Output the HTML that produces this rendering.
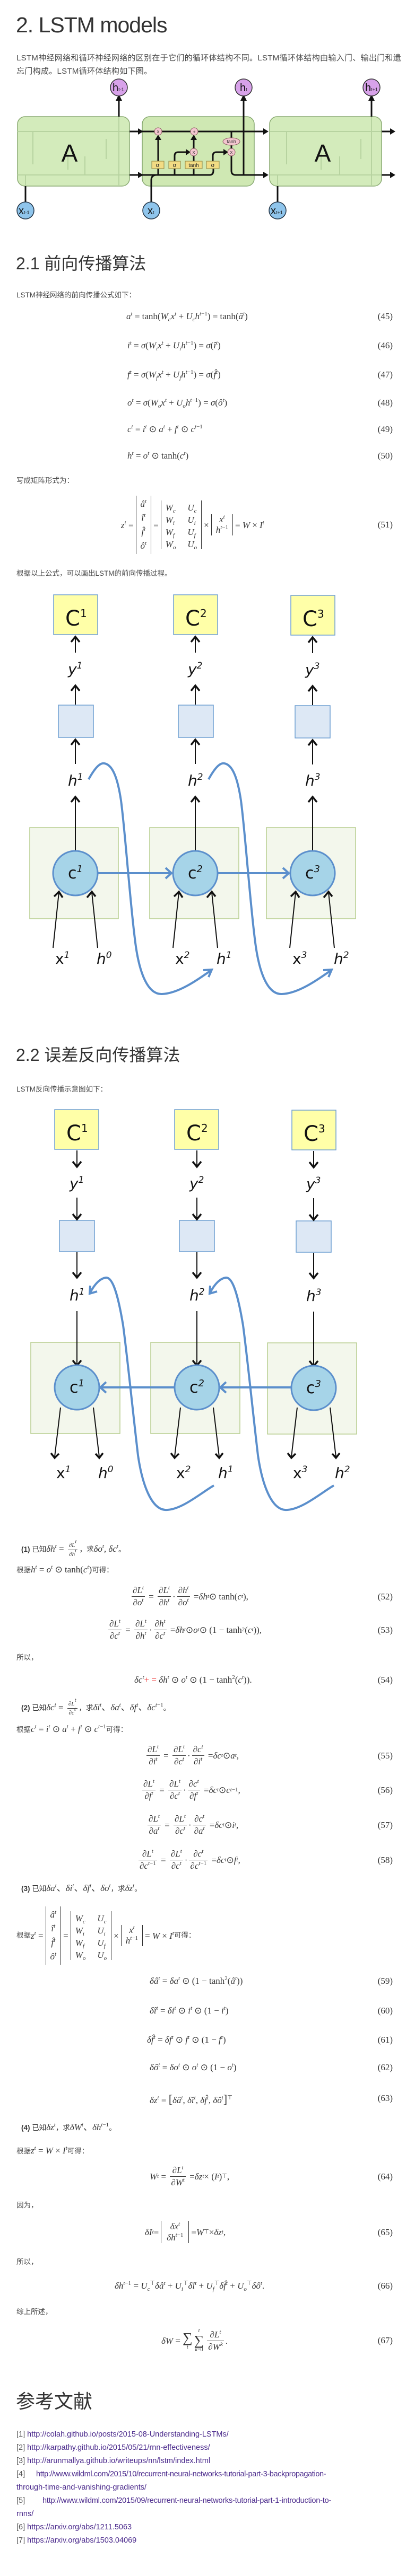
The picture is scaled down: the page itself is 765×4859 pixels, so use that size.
<!DOCTYPE html>
<html><head><meta charset="utf-8">
<style>
*{margin:0;padding:0;box-sizing:border-box}
body{width:765px;height:4859px;background:#fff;overflow:hidden}
#p{position:relative;width:765px;height:4859px;font-family:"Liberation Sans","Noto Sans CJK SC",sans-serif;color:#444}
svg{position:absolute;left:0;top:0}
.t{position:absolute;white-space:nowrap;line-height:1}
.h{color:#333}
.pt{font-size:13.5px;color:#4a4a4a}
.eq{position:absolute;white-space:nowrap;font-family:"Liberation Serif",serif;font-size:17px;color:#333;line-height:1}
.eq i{font-style:italic}
.eq sup{font-size:11px;vertical-align:7px;line-height:0}
.eq sub{font-size:11px;vertical-align:-4px;line-height:0}
.num{position:absolute;right:25px;font-family:"Liberation Serif",serif;font-size:17px;color:#333;line-height:1}
.fr{display:inline-flex;flex-direction:column;vertical-align:middle;text-align:center;margin:0 3px}
.fr>span{display:block;padding:1px 2px;line-height:1.15}
.fr>span:first-child{border-bottom:1px solid #333}
.fs{font-size:11px}
.mat{display:inline-flex;flex-direction:column;vertical-align:middle;border-left:1.5px solid #333;border-right:1.5px solid #333;padding:2px 8px;margin:0 4px;text-align:center}
.mat>span{line-height:25px}
.mat2{display:inline-grid;grid-template-columns:auto auto;column-gap:22px;vertical-align:middle;border-left:1.5px solid #333;border-right:1.5px solid #333;padding:2px 8px;margin:0 4px}
.mat2>span{line-height:23px}
.b{font-weight:bold}
.ref{position:absolute;white-space:nowrap;font-size:14.5px;line-height:1;color:#555}
.ref a,.ref span.l{color:#4b2a8c;text-decoration:none}
.red{color:#e33}
</style></head><body><div id="p">
<svg width="765" height="4859" viewBox="0 0 765 4859">
<defs>
<marker id="tri" markerWidth="8" markerHeight="8" refX="5" refY="4" orient="auto" markerUnits="userSpaceOnUse"><path d="M0,0 L8,4 L0,8 z" fill="#111"/></marker>
</defs>
<!-- ===== LSTM top diagram ===== -->
<g>
<rect x="33" y="220" width="211" height="131" rx="14" fill="#d3ebbb" stroke="#8aaa72" stroke-width="1.5"/>
<rect x="268" y="220" width="211" height="131" rx="14" fill="#cfe8b3" stroke="#86a870" stroke-width="1.5"/>
<rect x="508" y="220" width="211" height="131" rx="14" fill="#d3ebbb" stroke="#8aaa72" stroke-width="1.5"/>
<g stroke="#b7d3a0" stroke-width="2" fill="none">
<path d="M33 248H244M33 330H244M224 220V351M48 351V330H160V295M62 310V248M128 320V290M200 300V262"/>
<path d="M508 248H719M508 330H719M700 220V351M523 351V330H640V295M540 310V248M605 320V290M680 300V262"/>
</g>
<g stroke="#111" stroke-width="3" fill="none">
<path d="M224 220V186"/><path d="M700 220V186"/><path d="M459 330V186"/>
<path d="M244 248H262"/><path d="M244 330H262"/>
<path d="M268 248H498"/><path d="M719 248H737"/><path d="M719 330H737"/>
<path d="M268 330H395Q402 330 402 322V318"/>
<path d="M285 381V340Q285 330 295 330"/>
<path d="M298 304V262"/>
<path d="M329 304V294Q329 287 336 287H352"/>
<path d="M365 304V294"/><path d="M365 280V262"/>
<path d="M401 304V294Q401 287 408 287H422"/>
<path d="M436 248V262"/><path d="M436 272V280"/>
<path d="M436 294V322Q436 330 444 330H498"/>
<path d="M298 318V330M329 318V330M365 318V330"/>
<path d="M48 381V351M523 381V351"/>
</g>
<g fill="#111">
<path d="M218 190L224 178L230 190Z"/><path d="M694 190L700 178L706 190Z"/><path d="M453 190L459 178L465 190Z"/>
<path d="M260 242L270 248L260 254Z"/><path d="M260 324L270 330L260 336Z"/>
<path d="M496 242L506 248L496 254Z"/><path d="M496 324L506 330L496 336Z"/>
<path d="M735 242L745 248L735 254Z"/><path d="M735 324L745 330L735 336Z"/>
<path d="M292 264L298 254L304 264Z"/><path d="M359 264L365 254L371 264Z"/>
<path d="M350 281L359 287L350 293Z"/><path d="M421 281L430 287L421 293Z"/>
</g>
<g fill="#f3c6cf" stroke="#8a5a60" stroke-width="1">
<circle cx="298" cy="248" r="7"/><circle cx="366" cy="248" r="7"/>
<circle cx="365" cy="287" r="7"/><circle cx="436" cy="287" r="7"/>
<ellipse cx="436" cy="267" rx="16" ry="7"/>
</g>
<g font-family="Liberation Sans" font-size="9" fill="#333" text-anchor="middle">
<text x="298" y="251">x</text><text x="366" y="252">+</text><text x="365" y="290">x</text><text x="436" y="290">x</text><text x="436" y="270">tanh</text>
</g>
<g fill="#f2dc84" stroke="#8f8340" stroke-width="1">
<rect x="286" y="304" width="23" height="14"/><rect x="318" y="304" width="22" height="14"/><rect x="349" y="304" width="32" height="14"/><rect x="389" y="304" width="24" height="14"/>
</g>
<g font-family="Liberation Sans" font-size="11" fill="#222" text-anchor="middle">
<text x="297" y="315">σ</text><text x="329" y="315">σ</text><text x="365" y="315" font-size="10">tanh</text><text x="401" y="315">σ</text>
</g>
<g font-family="Liberation Sans" font-size="46" fill="#111" text-anchor="middle"><text x="131" y="305">A</text><text x="608" y="305">A</text></g>
<g fill="#d8a2ea" stroke="#333" stroke-width="1.5">
<ellipse cx="224" cy="165" rx="16" ry="16"/><ellipse cx="459" cy="165" rx="16" ry="16"/><ellipse cx="700" cy="165" rx="16" ry="16"/>
</g>
<g fill="#8fc5ec" stroke="#234" stroke-width="1.5">
<ellipse cx="48" cy="397" rx="16" ry="16"/><ellipse cx="285" cy="397" rx="16" ry="16"/><ellipse cx="523" cy="397" rx="16" ry="16"/>
</g>
<g font-family="Liberation Sans" font-size="20" fill="#111">
<text x="212" y="172">h<tspan font-size="9">t-1</tspan></text>
<text x="452" y="172">h<tspan font-size="9">t</tspan></text>
<text x="688" y="172">h<tspan font-size="9">t+1</tspan></text>
<text x="35" y="404">x<tspan font-size="9">t-1</tspan></text>
<text x="278" y="404">x<tspan font-size="9">t</tspan></text>
<text x="510" y="404">x<tspan font-size="9">t+1</tspan></text>
</g>
</g>

<!-- ===== Forward diagram ===== -->
<g id="fwd">
<g fill="#f3f7ec" stroke="#b7cd8f" stroke-width="1.5">
<rect x="56" y="1561" width="167" height="172"/><rect x="282" y="1561" width="168" height="172"/><rect x="502" y="1561" width="168" height="172"/>
</g>
<g fill="#ffffa8" stroke="#6f9fd2" stroke-width="1.5">
<rect x="101" y="1122" width="83" height="75"/><rect x="327" y="1122" width="83" height="75"/><rect x="548" y="1123" width="83" height="75"/>
</g>
<g fill="#dde8f5" stroke="#6f9fd2" stroke-width="1.5">
<rect x="110" y="1330" width="66" height="61"/><rect x="336" y="1330" width="66" height="61"/><rect x="556" y="1331" width="66" height="61"/>
</g>
<g stroke="#111" stroke-width="2" fill="none">
<path d="M142 1231V1201M368 1231V1201M589 1232V1202"/>
<path d="M142 1329V1293M368 1329V1293M589 1330V1294"/>
<path d="M142 1441V1395M368 1441V1395M589 1442V1396"/>
<path d="M142 1605V1503M368 1605V1503M589 1605V1503"/>
<path d="M100 1788L111 1683M184 1788L173 1683M326 1788L337 1683M410 1788L399 1683M546 1788L557 1683M630 1788L619 1683"/>
</g>
<g stroke="#111" stroke-width="3.5" fill="none" stroke-linejoin="miter">
<path d="M134 1211L142 1201L150 1211M360 1211L368 1201L376 1211M581 1212L589 1202L597 1212"/>
<path d="M134 1303L142 1293L150 1303M360 1303L368 1293L376 1303M581 1304L589 1294L597 1304"/>
<path d="M134 1405L142 1395L150 1405M360 1405L368 1395L376 1405M581 1406L589 1396L597 1406"/>
<path d="M134 1513L142 1503L150 1513M360 1513L368 1503L376 1513M581 1513L589 1503L597 1513"/>
<path d="M102 1691L111 1682L118 1693M164 1693L173 1682L180 1691M328 1691L337 1682L344 1693M390 1693L399 1682L406 1691M548 1691L557 1682L564 1693M610 1693L619 1682L626 1691"/>
</g>
<g stroke="#5b8fcc" stroke-width="4" fill="none">
<path d="M185 1647H322M411 1647H543"/>
<path d="M312 1637L323 1647L312 1657M533 1637L544 1647L533 1657"/>
<path d="M167 1470C178 1450 188 1438 197 1440C213 1443 222 1470 228 1510C236 1570 244 1690 254 1770C262 1840 280 1876 305 1875C335 1874 370 1850 398 1830"/>
<path d="M383 1830L399 1829L393 1843"/>
<path d="M393 1470C404 1450 414 1438 423 1440C439 1443 448 1470 454 1510C462 1570 470 1690 480 1770C488 1840 506 1876 531 1875C561 1874 596 1850 624 1830"/>
<path d="M609 1830L625 1829L619 1843"/>
</g>
<g fill="#a6d4e8" stroke="#5b8fcc" stroke-width="3">
<circle cx="142" cy="1647" r="42"/><circle cx="368" cy="1647" r="42"/><circle cx="589" cy="1647" r="42"/>
</g>
<g font-family="DejaVu Sans" fill="#111">
<g font-size="40"><text x="123" y="1180">C<tspan font-size="20" dy="-16">1</tspan></text><text x="349" y="1180">C<tspan font-size="20" dy="-16">2</tspan></text><text x="570" y="1181">C<tspan font-size="20" dy="-16">3</tspan></text></g>
<g font-size="28" font-style="italic"><text x="128" y="1272">y<tspan font-size="17" dy="-11">1</tspan></text><text x="354" y="1272">y<tspan font-size="17" dy="-11">2</tspan></text><text x="575" y="1273">y<tspan font-size="17" dy="-11">3</tspan></text></g>
<g font-size="28" font-style="italic"><text x="128" y="1482">h<tspan font-size="17" dy="-11">1</tspan></text><text x="354" y="1482">h<tspan font-size="17" dy="-11">2</tspan></text><text x="575" y="1482">h<tspan font-size="17" dy="-11">3</tspan></text></g>
<g font-size="30"><text x="128" y="1657">c<tspan font-size="18" font-style="italic" dy="-12">1</tspan></text><text x="354" y="1657">c<tspan font-size="18" font-style="italic" dy="-12">2</tspan></text><text x="575" y="1657">c<tspan font-size="18" font-style="italic" dy="-12">3</tspan></text></g>
<g font-size="28"><text x="104" y="1818">x<tspan font-size="17" font-style="italic" dy="-11">1</tspan></text><text x="330" y="1818">x<tspan font-size="17" font-style="italic" dy="-11">2</tspan></text><text x="551" y="1818">x<tspan font-size="17" font-style="italic" dy="-11">3</tspan></text></g>
<g font-size="28" font-style="italic"><text x="182" y="1818">h<tspan font-size="17" dy="-11">0</tspan></text><text x="408" y="1818">h<tspan font-size="17" dy="-11">1</tspan></text><text x="629" y="1818">h<tspan font-size="17" dy="-11">2</tspan></text></g>
</g>
</g>

<!-- ===== Backward diagram ===== -->
<g id="bwd">
<g fill="#f3f7ec" stroke="#b7cd8f" stroke-width="1.5">
<rect x="58" y="2532" width="168" height="172"/><rect x="284" y="2532" width="168" height="172"/><rect x="504" y="2533" width="168" height="172"/>
</g>
<g fill="#ffffa8" stroke="#6f9fd2" stroke-width="1.5">
<rect x="103" y="2093" width="83" height="75"/><rect x="329" y="2093" width="83" height="75"/><rect x="550" y="2094" width="83" height="75"/>
</g>
<g fill="#dde8f5" stroke="#6f9fd2" stroke-width="1.5">
<rect x="112" y="2302" width="66" height="59"/><rect x="338" y="2302" width="66" height="59"/><rect x="558" y="2303" width="66" height="59"/>
</g>
<g stroke="#111" stroke-width="2" fill="none">
<path d="M145 2170V2200M371 2170V2200M591 2171V2201"/>
<path d="M145 2259V2299M371 2259V2299M591 2260V2300"/>
<path d="M145 2362V2409M371 2362V2409M591 2363V2410"/>
<path d="M145 2473V2574M371 2473V2574M591 2474V2575"/>
<path d="M114 2655L103 2748M176 2655L187 2748M340 2655L329 2748M402 2655L413 2748M560 2655L549 2748M622 2655L633 2748"/>
</g>
<g stroke="#111" stroke-width="3.5" fill="none">
<path d="M137 2191L145 2201L153 2191M363 2191L371 2201L379 2191M583 2192L591 2202L599 2192"/>
<path d="M137 2290L145 2300L153 2290M363 2290L371 2300L379 2290M583 2291L591 2301L599 2291"/>
<path d="M137 2400L145 2410L153 2400M363 2400L371 2410L379 2400M583 2401L591 2411L599 2401"/>
<path d="M137 2566L145 2576L153 2566M363 2566L371 2576L379 2566M583 2567L591 2577L599 2567"/>
<path d="M96 2741L103 2750L111 2742M180 2742L187 2750L194 2741M322 2741L329 2750L337 2742M406 2742L413 2750L420 2741M542 2741L549 2750L557 2742M626 2742L633 2750L640 2741"/>
</g>
<g stroke="#5b8fcc" stroke-width="4" fill="none">
<path d="M190 2617H329M416 2617H549"/>
<path d="M200 2607L189 2617L200 2627M426 2607L415 2617L426 2627"/>
<path d="M403 2802C380 2815 340 2850 311 2848C285 2846 268 2800 260 2745C250 2660 240 2560 232 2500C222 2440 212 2408 199 2410C187 2412 177 2425 170 2438"/>
<path d="M170 2425L169 2440L183 2436"/>
<path d="M629 2802C606 2815 566 2850 537 2848C511 2846 494 2800 486 2745C476 2660 466 2560 458 2500C448 2440 438 2408 425 2410C413 2412 403 2425 396 2438"/>
<path d="M396 2425L395 2440L409 2436"/>
</g>
<g fill="#a6d4e8" stroke="#5b8fcc" stroke-width="3">
<circle cx="145" cy="2617" r="42"/><circle cx="371" cy="2617" r="42"/><circle cx="591" cy="2618" r="42"/>
</g>
<g font-family="DejaVu Sans" fill="#111">
<g font-size="40"><text x="125" y="2151">C<tspan font-size="20" dy="-16">1</tspan></text><text x="351" y="2151">C<tspan font-size="20" dy="-16">2</tspan></text><text x="572" y="2152">C<tspan font-size="20" dy="-16">3</tspan></text></g>
<g font-size="28" font-style="italic"><text x="131" y="2242">y<tspan font-size="17" dy="-11">1</tspan></text><text x="357" y="2242">y<tspan font-size="17" dy="-11">2</tspan></text><text x="577" y="2243">y<tspan font-size="17" dy="-11">3</tspan></text></g>
<g font-size="28" font-style="italic"><text x="131" y="2453">h<tspan font-size="17" dy="-11">1</tspan></text><text x="357" y="2453">h<tspan font-size="17" dy="-11">2</tspan></text><text x="577" y="2454">h<tspan font-size="17" dy="-11">3</tspan></text></g>
<g font-size="30"><text x="131" y="2627">c<tspan font-size="18" font-style="italic" dy="-12">1</tspan></text><text x="357" y="2627">c<tspan font-size="18" font-style="italic" dy="-12">2</tspan></text><text x="577" y="2628">c<tspan font-size="18" font-style="italic" dy="-12">3</tspan></text></g>
<g font-size="28"><text x="106" y="2788">x<tspan font-size="17" font-style="italic" dy="-11">1</tspan></text><text x="332" y="2788">x<tspan font-size="17" font-style="italic" dy="-11">2</tspan></text><text x="552" y="2788">x<tspan font-size="17" font-style="italic" dy="-11">3</tspan></text></g>
<g font-size="28" font-style="italic"><text x="185" y="2788">h<tspan font-size="17" dy="-11">0</tspan></text><text x="411" y="2788">h<tspan font-size="17" dy="-11">1</tspan></text><text x="631" y="2788">h<tspan font-size="17" dy="-11">2</tspan></text></g>
</g>
</g>
</svg>

<!-- ===== Text ===== -->
<div class="t h" style="left:30px;top:27px;font-size:41px;letter-spacing:-1px">2. LSTM models</div>
<div class="t" style="left:31px;top:102px;font-size:15px;color:#4a4a4a;letter-spacing:0.3px">LSTM神经网络和循环神经网络的区别在于它们的循环体结构不同。LSTM循环体结构由输入门、输出门和遗</div>
<div class="t" style="left:31px;top:127px;font-size:15px;color:#4a4a4a;letter-spacing:0.3px">忘门构成。LSTM循环体结构如下图。</div>

<div class="t h" style="left:30px;top:481px;font-size:32px">2.1 前向传播算法</div>
<div class="t pt" style="left:31px;top:550px">LSTM神经网络的前向传播公式如下：</div>

<div class="eq" style="left:238px;top:588px"><i>a</i><sup><i>t</i></sup> = tanh(<i>W</i><sub><i>c</i></sub><i>x</i><sup><i>t</i></sup> + <i>U</i><sub><i>c</i></sub><i>h</i><sup><i>t</i>−1</sup>) = tanh(<i>â</i><sup><i>t</i></sup>)</div><div class="num" style="top:588px">(45)</div>
<div class="eq" style="left:240px;top:643px"><i>i</i><sup><i>t</i></sup> = <i>σ</i>(<i>W</i><sub><i>i</i></sub><i>x</i><sup><i>t</i></sup> + <i>U</i><sub><i>i</i></sub><i>h</i><sup><i>t</i>−1</sup>) = <i>σ</i>(<i>î</i><sup><i>t</i></sup>)</div><div class="num" style="top:643px">(46)</div>
<div class="eq" style="left:240px;top:698px"><i>f</i><sup><i>t</i></sup> = <i>σ</i>(<i>W</i><sub><i>f</i></sub><i>x</i><sup><i>t</i></sup> + <i>U</i><sub><i>f</i></sub><i>h</i><sup><i>t</i>−1</sup>) = <i>σ</i>(<i>f̂</i><sup><i>t</i></sup>)</div><div class="num" style="top:698px">(47)</div>
<div class="eq" style="left:240px;top:751px"><i>o</i><sup><i>t</i></sup> = <i>σ</i>(<i>W</i><sub><i>o</i></sub><i>x</i><sup><i>t</i></sup> + <i>U</i><sub><i>o</i></sub><i>h</i><sup><i>t</i>−1</sup>) = <i>σ</i>(<i>ô</i><sup><i>t</i></sup>)</div><div class="num" style="top:751px">(48)</div>
<div class="eq" style="left:240px;top:801px"><i>c</i><sup><i>t</i></sup> = <i>i</i><sup><i>t</i></sup> ⊙ <i>a</i><sup><i>t</i></sup> + <i>f</i><sup><i>t</i></sup> ⊙ <i>c</i><sup><i>t</i>−1</sup></div><div class="num" style="top:801px">(49)</div>
<div class="eq" style="left:240px;top:851px"><i>h</i><sup><i>t</i></sup> = <i>o</i><sup><i>t</i></sup> ⊙ tanh(<i>c</i><sup><i>t</i></sup>)</div><div class="num" style="top:851px">(50)</div>

<div class="t pt" style="left:31px;top:900px">写成矩阵形式为：</div>
<div class="eq" style="left:228px;top:935px;height:110px;display:flex;align-items:center"><span><i>z</i><sup><i>t</i></sup> =</span><span class="mat" style="height:110px;justify-content:space-around"><span><i>â</i><sup><i>t</i></sup></span><span><i>î</i><sup><i>t</i></sup></span><span><i>f̂</i><sup><i>t</i></sup></span><span><i>ô</i><sup><i>t</i></sup></span></span><span>=</span><span class="mat2" style="height:92px"><span><i>W</i><sub><i>c</i></sub></span><span><i>U</i><sub><i>c</i></sub></span><span><i>W</i><sub><i>i</i></sub></span><span><i>U</i><sub><i>i</i></sub></span><span><i>W</i><sub><i>f</i></sub></span><span><i>U</i><sub><i>f</i></sub></span><span><i>W</i><sub><i>o</i></sub></span><span><i>U</i><sub><i>o</i></sub></span></span><span>×</span><span class="mat" style="padding:0 8px"><span style="line-height:20px"><i>x</i><sup><i>t</i></sup></span><span style="line-height:20px"><i>h</i><sup><i>t</i>−1</sup></span></span><span>= <i>W</i> × <i>I</i><sup><i>t</i></sup></span></div><div class="num" style="top:981px">(51)</div>

<div class="t pt" style="left:31px;top:1075px">根据以上公式，可以画出LSTM的前向传播过程。</div>

<div class="t h" style="left:30px;top:1974px;font-size:32px">2.2 误差反向传播算法</div>
<div class="t pt" style="left:31px;top:2048px">LSTM反向传播示意图如下：</div>

<div class="t pt" style="left:40px;top:2907px;color:#333"><span class="b">(1)</span> 已知<span class="eq" style="position:static"><i>δh</i><sup><i>t</i></sup> = <span class="fr fs"><span><i>∂L</i><sup><i>t</i></sup></span><span><i>∂h</i><sup><i>t</i></sup></span></span></span>，求<span class="eq" style="position:static"><i>δo</i><sup><i>t</i></sup>, <i>δc</i><sup><i>t</i></sup></span>。</div>
<div class="t pt" style="left:31px;top:2952px">根据<span class="eq" style="position:static"><i>h</i><sup><i>t</i></sup> = <i>o</i><sup><i>t</i></sup> ⊙ tanh(<i>c</i><sup><i>t</i></sup>)</span>可得：</div>

<div class="eq" style="left:245px;top:2990px;height:42px;display:flex;align-items:center"><span class="fr"><span><i>∂L</i><sup><i>t</i></sup></span><span><i>∂o</i><sup><i>t</i></sup></span></span>&nbsp;=&nbsp;<span class="fr"><span><i>∂L</i><sup><i>t</i></sup></span><span><i>∂h</i><sup><i>t</i></sup></span></span>·<span class="fr"><span><i>∂h</i><sup><i>t</i></sup></span><span><i>∂o</i><sup><i>t</i></sup></span></span>&nbsp;= <i>δh</i><sup><i>t</i></sup> ⊙ tanh(<i>c</i><sup><i>t</i></sup>),</div><div class="num" style="top:3003px">(52)</div>
<div class="eq" style="left:201px;top:3053px;height:42px;display:flex;align-items:center"><span class="fr"><span><i>∂L</i><sup><i>t</i></sup></span><span><i>∂c</i><sup><i>t</i></sup></span></span>&nbsp;=&nbsp;<span class="fr"><span><i>∂L</i><sup><i>t</i></sup></span><span><i>∂h</i><sup><i>t</i></sup></span></span>·<span class="fr"><span><i>∂h</i><sup><i>t</i></sup></span><span><i>∂c</i><sup><i>t</i></sup></span></span>&nbsp;= <i>δh</i><sup><i>t</i></sup> ⊙ <i>o</i><sup><i>t</i></sup> ⊙ (1 − tanh<sup>2</sup>(<i>c</i><sup><i>t</i></sup>)),</div><div class="num" style="top:3066px">(53)</div>
<div class="t pt" style="left:31px;top:3120px">所以，</div>
<div class="eq" style="left:253px;top:3160px"><i>δc</i><sup><i>t</i></sup><span class="red">+ =</span> <i>δh</i><sup><i>t</i></sup> ⊙ <i>o</i><sup><i>t</i></sup> ⊙ (1 − tanh<sup>2</sup>(<i>c</i><sup><i>t</i></sup>)).</div><div class="num" style="top:3160px">(54)</div>

<div class="t pt" style="left:40px;top:3206px;color:#333"><span class="b">(2)</span> 已知<span class="eq" style="position:static"><i>δc</i><sup><i>t</i></sup> = <span class="fr fs"><span><i>∂L</i><sup><i>t</i></sup></span><span><i>∂c</i><sup><i>t</i></sup></span></span></span>，求<span class="eq" style="position:static"><i>δi</i><sup><i>t</i></sup>、<i>δa</i><sup><i>t</i></sup>、<i>δf</i><sup><i>t</i></sup>、<i>δc</i><sup><i>t</i>−1</sup></span>。</div>
<div class="t pt" style="left:31px;top:3253px">根据<span class="eq" style="position:static"><i>c</i><sup><i>t</i></sup> = <i>i</i><sup><i>t</i></sup> ⊙ <i>a</i><sup><i>t</i></sup> + <i>f</i><sup><i>t</i></sup> ⊙ <i>c</i><sup><i>t</i>−1</sup></span>可得：</div>

<div class="eq" style="left:273px;top:3290px;height:42px;display:flex;align-items:center"><span class="fr"><span><i>∂L</i><sup><i>t</i></sup></span><span><i>∂i</i><sup><i>t</i></sup></span></span>&nbsp;=&nbsp;<span class="fr"><span><i>∂L</i><sup><i>t</i></sup></span><span><i>∂c</i><sup><i>t</i></sup></span></span>·<span class="fr"><span><i>∂c</i><sup><i>t</i></sup></span><span><i>∂i</i><sup><i>t</i></sup></span></span>&nbsp;= <i>δc</i><sup><i>t</i></sup> ⊙ <i>a</i><sup><i>t</i></sup>,</div><div class="num" style="top:3303px">(55)</div>
<div class="eq" style="left:265px;top:3355px;height:42px;display:flex;align-items:center"><span class="fr"><span><i>∂L</i><sup><i>t</i></sup></span><span><i>∂f</i><sup><i>t</i></sup></span></span>&nbsp;=&nbsp;<span class="fr"><span><i>∂L</i><sup><i>t</i></sup></span><span><i>∂c</i><sup><i>t</i></sup></span></span>·<span class="fr"><span><i>∂c</i><sup><i>t</i></sup></span><span><i>∂f</i><sup><i>t</i></sup></span></span>&nbsp;= <i>δc</i><sup><i>t</i></sup> ⊙ <i>c</i><sup><i>t</i>−1</sup>,</div><div class="num" style="top:3368px">(56)</div>
<div class="eq" style="left:275px;top:3421px;height:42px;display:flex;align-items:center"><span class="fr"><span><i>∂L</i><sup><i>t</i></sup></span><span><i>∂a</i><sup><i>t</i></sup></span></span>&nbsp;=&nbsp;<span class="fr"><span><i>∂L</i><sup><i>t</i></sup></span><span><i>∂c</i><sup><i>t</i></sup></span></span>·<span class="fr"><span><i>∂c</i><sup><i>t</i></sup></span><span><i>∂a</i><sup><i>t</i></sup></span></span>&nbsp;= <i>δc</i><sup><i>t</i></sup> ⊙ <i>i</i><sup><i>t</i></sup>,</div><div class="num" style="top:3434px">(57)</div>
<div class="eq" style="left:258px;top:3487px;height:42px;display:flex;align-items:center"><span class="fr"><span><i>∂L</i><sup><i>t</i></sup></span><span><i>∂c</i><sup><i>t</i>−1</sup></span></span>&nbsp;=&nbsp;<span class="fr"><span><i>∂L</i><sup><i>t</i></sup></span><span><i>∂c</i><sup><i>t</i></sup></span></span>·<span class="fr"><span><i>∂c</i><sup><i>t</i></sup></span><span><i>∂c</i><sup><i>t</i>−1</sup></span></span>&nbsp;= <i>δc</i><sup><i>t</i></sup> ⊙ <i>f</i><sup><i>t</i></sup>,</div><div class="num" style="top:3500px">(58)</div>

<div class="t pt" style="left:40px;top:3553px;color:#333"><span class="b">(3)</span> 已知<span class="eq" style="position:static"><i>δa</i><sup><i>t</i></sup>、<i>δi</i><sup><i>t</i></sup>、<i>δf</i><sup><i>t</i></sup>、<i>δo</i><sup><i>t</i></sup></span>，求<span class="eq" style="position:static"><i>δz</i><sup><i>t</i></sup></span>。</div>
<div class="eq" style="left:31px;top:3596px;height:110px;display:flex;align-items:center"><span style="font-family:'Liberation Sans','Noto Sans CJK SC',sans-serif;font-size:13.5px;color:#4a4a4a">根据</span><span><i>z</i><sup><i>t</i></sup> =</span><span class="mat" style="height:110px;justify-content:space-around"><span><i>â</i><sup><i>t</i></sup></span><span><i>î</i><sup><i>t</i></sup></span><span><i>f̂</i><sup><i>t</i></sup></span><span><i>ô</i><sup><i>t</i></sup></span></span><span>=</span><span class="mat2" style="height:92px"><span><i>W</i><sub><i>c</i></sub></span><span><i>U</i><sub><i>c</i></sub></span><span><i>W</i><sub><i>i</i></sub></span><span><i>U</i><sub><i>i</i></sub></span><span><i>W</i><sub><i>f</i></sub></span><span><i>U</i><sub><i>f</i></sub></span><span><i>W</i><sub><i>o</i></sub></span><span><i>U</i><sub><i>o</i></sub></span></span><span>×</span><span class="mat" style="padding:0 8px"><span style="line-height:20px"><i>x</i><sup><i>t</i></sup></span><span style="line-height:20px"><i>h</i><sup><i>t</i>−1</sup></span></span><span>= <i>W</i> × <i>I</i><sup><i>t</i></sup></span><span style="font-family:'Liberation Sans','Noto Sans CJK SC',sans-serif;font-size:13.5px;color:#4a4a4a">可得：</span></div>

<div class="eq" style="left:282px;top:3728px"><i>δâ</i><sup><i>t</i></sup> = <i>δa</i><sup><i>t</i></sup> ⊙ (1 − tanh<sup>2</sup>(<i>â</i><sup><i>t</i></sup>))</div><div class="num" style="top:3728px">(59)</div>
<div class="eq" style="left:282px;top:3784px"><i>δî</i><sup><i>t</i></sup> = <i>δi</i><sup><i>t</i></sup> ⊙ <i>i</i><sup><i>t</i></sup> ⊙ (1 − <i>i</i><sup><i>t</i></sup>)</div><div class="num" style="top:3784px">(60)</div>
<div class="eq" style="left:277px;top:3839px"><i>δf̂</i><sup><i>t</i></sup> = <i>δf</i><sup><i>t</i></sup> ⊙ <i>f</i><sup><i>t</i></sup> ⊙ (1 − <i>f</i><sup><i>t</i></sup>)</div><div class="num" style="top:3839px">(61)</div>
<div class="eq" style="left:282px;top:3891px"><i>δô</i><sup><i>t</i></sup> = <i>δo</i><sup><i>t</i></sup> ⊙ <i>o</i><sup><i>t</i></sup> ⊙ (1 − <i>o</i><sup><i>t</i></sup>)</div><div class="num" style="top:3891px">(62)</div>
<div class="eq" style="left:282px;top:3949px"><i>δz</i><sup><i>t</i></sup> = <span style="font-size:22px">[</span><i>δâ</i><sup><i>t</i></sup>, <i>δî</i><sup><i>t</i></sup>, <i>δf̂</i><sup><i>t</i></sup>, <i>δô</i><sup><i>t</i></sup><span style="font-size:22px">]</span><sup>⊤</sup></div><div class="num" style="top:3949px">(63)</div>

<div class="t pt" style="left:40px;top:4004px;color:#333"><span class="b">(4)</span> 已知<span class="eq" style="position:static"><i>δz</i><sup><i>t</i></sup></span>，求<span class="eq" style="position:static"><i>δW</i><sup><i>t</i></sup>、<i>δh</i><sup><i>t</i>−1</sup></span>。</div>
<div class="t pt" style="left:31px;top:4048px">根据<span class="eq" style="position:static"><i>z</i><sup><i>t</i></sup> = <i>W</i> × <i>I</i><sup><i>t</i></sup></span>可得：</div>
<div class="eq" style="left:282px;top:4084px;height:42px;display:flex;align-items:center"><i>W</i><sup><i>t</i></sup>&nbsp;=&nbsp;<span class="fr"><span><i>∂L</i><sup><i>t</i></sup></span><span><i>∂W</i><sup><i>t</i></sup></span></span>&nbsp;= <i>δz</i><sup><i>t</i></sup> × (<i>I</i><sup><i>t</i></sup>)<sup>⊤</sup>,</div><div class="num" style="top:4097px">(64)</div>
<div class="t pt" style="left:31px;top:4153px">因为，</div>
<div class="eq" style="left:273px;top:4188px;height:44px;display:flex;align-items:center"><i>δI</i><sup><i>t</i></sup> =<span class="mat" style="padding:0 10px"><span style="line-height:21px"><i>δx</i><sup><i>t</i></sup></span><span style="line-height:21px"><i>δh</i><sup><i>t</i>−1</sup></span></span>= <i>W</i><sup>⊤</sup> × <i>δz</i><sup><i>t</i></sup>,</div><div class="num" style="top:4202px">(65)</div>
<div class="t pt" style="left:31px;top:4260px">所以，</div>
<div class="eq" style="left:216px;top:4303px"><i>δh</i><sup><i>t</i>−1</sup> = <i>U</i><sub><i>c</i></sub><sup>⊤</sup><i>δâ</i><sup><i>t</i></sup> + <i>U</i><sub><i>i</i></sub><sup>⊤</sup><i>δî</i><sup><i>t</i></sup> + <i>U</i><sub><i>f</i></sub><sup>⊤</sup><i>δf̂</i><sup><i>t</i></sup> + <i>U</i><sub><i>o</i></sub><sup>⊤</sup><i>δô</i><sup><i>t</i></sup>.</div><div class="num" style="top:4303px">(66)</div>
<div class="t pt" style="left:31px;top:4354px">综上所述，</div>
<div class="eq" style="left:304px;top:4390px;height:50px;display:flex;align-items:center"><i>δW</i>&nbsp;=&nbsp;<span style="display:inline-flex;flex-direction:column;align-items:center"><span style="font-size:26px;line-height:26px">∑</span><span style="font-size:10px"><i>t</i></span></span><span style="display:inline-flex;flex-direction:column;align-items:center;margin:0 3px"><span style="font-size:10px"><i>t</i></span><span style="font-size:26px;line-height:26px">∑</span><span style="font-size:10px"><i>k</i>=0</span></span><span class="fr"><span><i>∂L</i><sup><i>t</i></sup></span><span><i>∂W</i><sup><i>k</i></sup></span></span>.</div><div class="num" style="top:4406px">(67)</div>

<div class="t h" style="left:30px;top:4512px;font-size:36px">参考文献</div>
<div class="ref" style="left:31px;top:4585px">[1] <span class="l">http://colah.github.io/posts/2015-08-Understanding-LSTMs/</span></div>
<div class="ref" style="left:31px;top:4610px">[2] <span class="l">http://karpathy.github.io/2015/05/21/rnn-effectiveness/</span></div>
<div class="ref" style="left:31px;top:4635px">[3] <span class="l">http://arunmallya.github.io/writeups/nn/lstm/index.html</span></div>
<div class="ref" style="left:31px;top:4660px">[4]</div>
<div class="ref" style="left:68px;top:4660px;letter-spacing:-0.35px"><span class="l">http://www.wildml.com/2015/10/recurrent-neural-networks-tutorial-part-3-backpropagation-</span></div>
<div class="ref" style="left:31px;top:4685px"><span class="l">through-time-and-vanishing-gradients/</span></div>
<div class="ref" style="left:31px;top:4710px">[5]</div>
<div class="ref" style="left:80px;top:4710px;letter-spacing:-0.2px"><span class="l">http://www.wildml.com/2015/09/recurrent-neural-networks-tutorial-part-1-introduction-to-</span></div>
<div class="ref" style="left:31px;top:4735px"><span class="l">rnns/</span></div>
<div class="ref" style="left:31px;top:4760px">[6] <span class="l">https://arxiv.org/abs/1211.5063</span></div>
<div class="ref" style="left:31px;top:4785px">[7] <span class="l">https://arxiv.org/abs/1503.04069</span></div>
</div></body></html>
